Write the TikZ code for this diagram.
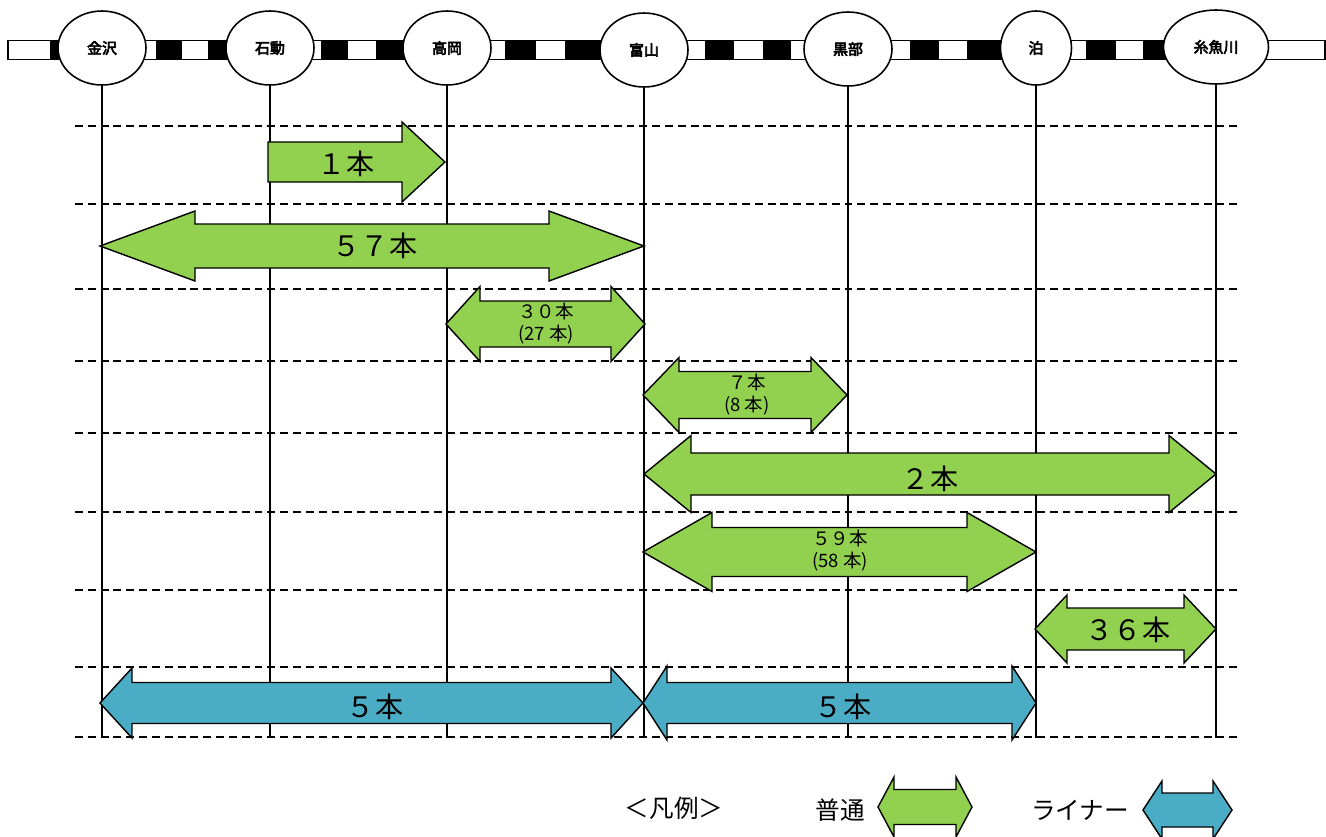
\documentclass[tikz,border=0pt]{standalone}
\usepackage{fontspec}
\usepackage{tikz}
\usetikzlibrary{shapes.geometric}
\newfontfamily\jp{Noto Sans CJK JP}
\newfontfamily\jpb{Noto Sans CJK JP}[FakeBold=4]
\definecolor{localgreen}{RGB}{146,208,80}
\definecolor{linerblue}{RGB}{75,172,198}
\tikzset{
  % stations sitting on the track band
  station/.style={ellipse,draw,line width=0.9pt,fill=white,minimum width=1.76cm,
    minimum height=1.48cm,inner sep=0,font=\jpb\fontsize{8.5}{10}\selectfont},
  track/.style={draw,line width=0.8pt,fill=white},
  pole/.style={line width=0.8pt},
  guide/.style={line width=0.8pt,dash pattern=on 4.5pt off 2.8pt},
  % two kinds of service
  local/.style={draw,line width=0.8pt,fill=localgreen,line join=miter},
  liner/.style={draw,line width=0.8pt,fill=linerblue,line join=miter},
  big label/.style={font=\jp\fontsize{16}{18}\selectfont},
  small label/.style={font=\jp\fontsize{10.5}{12.5}\selectfont,align=center},
  legend label/.style={font=\jp\fontsize{14}{16}\selectfont}
}
% double headed block arrow: style, left x, right x, mid y, head half, body half, head length
\newcommand{\twinarrow}[7]{%
  \draw[#1] (#2,#4) -- ({#2+#7},{#4-#5}) -- ({#2+#7},{#4-#6}) -- ({#3-#7},{#4-#6})
    -- ({#3-#7},{#4-#5}) -- (#3,#4) -- ({#3-#7},{#4+#5}) -- ({#3-#7},{#4+#6})
    -- ({#2+#7},{#4+#6}) -- ({#2+#7},{#4+#5}) -- cycle;}

\begin{document}
\begin{tikzpicture}[x=0.02cm,y=-0.02cm,font=\jp]
  \useasboundingbox (0,0) rectangle (1326,836);
  \coordinate (floor) at (0,738);
  % dashed rows
  \foreach \y in {126,204,289,361,433,512,590,667,737}
    \draw[guide] (75,\y) -- (1240,\y);
  % the track
  \draw[track] (8,40.5) rectangle (1325,59.5);
  \foreach \a/\b in {50/62,156/182,208/232,321/348,376/406,505/536,565/602,
      705/734,763/791,910/939,967/1004,1086/1116,1143/1168}
    \fill (\a,40.5) rectangle (\b,59.5);
  % stations
  \node[station] (kanazawa) at (102,48) {金沢};
  \node[station] (isurugi) at (270,48) {石動};
  \node[station] (takaoka) at (447,48) {高岡};
  \node[station] (toyama) at (644,50) {富山};
  \node[station] (kurobe) at (848,49) {黒部};
  \node[station,minimum width=1.42cm] (tomari) at (1036,48) {泊};
  \node[station,minimum width=2.1cm] (itoigawa) at (1216,47) {糸魚川};
  \foreach \s in {kanazawa,isurugi,takaoka,toyama,kurobe,tomari,itoigawa}
    \draw[pole] (\s.south) -- (\s.south |- floor);
  % local trains
  \draw[local] (268,142) -- (402,142) -- (402,122) -- (445,162) -- (402,202)
    -- (402,182) -- (268,182) -- cycle;
  \node[big label] (n1) at (346,164) {１本};
  \twinarrow{local}{100}{644}{246}{35}{22}{95}
  \node[big label] (n57) at (375,246) {５７本};
  \twinarrow{local}{446}{645}{324}{37.5}{23}{34}
  \node[small label] (n30) at (546,324) {３０本\\(27 本)};
  \twinarrow{local}{643}{847}{395}{37.5}{23.5}{36}
  \node[small label] (n7) at (747,395) {７本\\(8 本)};
  \twinarrow{local}{644}{1216}{474}{38.5}{21}{47}
  \node[big label] (n2) at (930,479) {２本};
  \twinarrow{local}{643}{1036}{552}{39.5}{24.5}{69}
  \node[small label] (n59) at (840,551) {５９本\\(58 本)};
  \twinarrow{local}{1035}{1216}{629}{34}{21}{32}
  \node[big label] (n36) at (1128,630) {３６本};
  % liner trains
  \twinarrow{liner}{100}{643}{703}{35}{20.5}{32}
  \node[big label] (l5a) at (375,707) {５本};
  \twinarrow{liner}{643}{1036}{703}{37}{20.5}{24}
  \node[big label] (l5b) at (843,707) {５本};
  % legend
  \node[legend label] (legend) at (674,808) {＜凡例＞};
  \node[legend label] (futsu) at (840,810) {普通};
  \twinarrow{local}{878}{972}{807}{30}{17.5}{16}
  \node[legend label] (liner) at (1080,810) {ライナー};
  \twinarrow{liner}{1143}{1232}{810}{29}{17}{19}
\end{tikzpicture}
\end{document}
